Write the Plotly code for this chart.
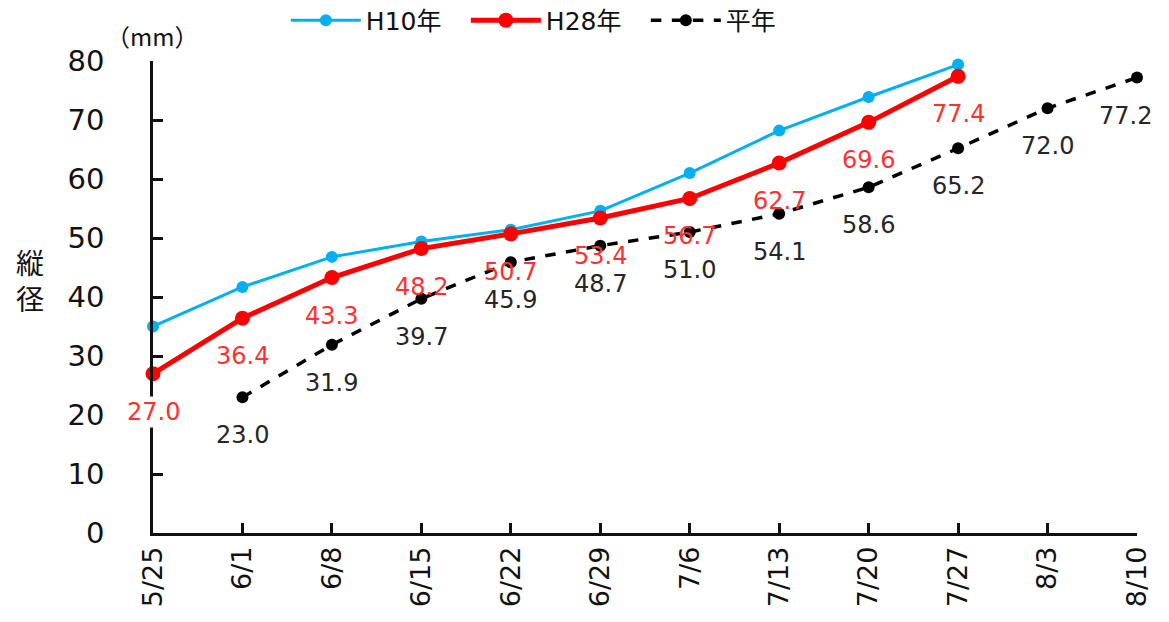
import plotly.graph_objects as go

categories = ["5/25", "6/1", "6/8", "6/15", "6/22", "6/29", "7/6", "7/13", "7/20", "7/27", "8/3", "8/10"]
h10 = [35.0, 41.7, 46.8, 49.4, 51.4, 54.6, 61.0, 68.2, 73.9, 79.4, None, None]
h28 = [27.0, 36.4, 43.3, 48.2, 50.7, 53.4, 56.7, 62.7, 69.6, 77.4, None, None]
avg = [None, 23.0, 31.9, 39.7, 45.9, 48.7, 51.0, 54.1, 58.6, 65.2, 72.0, 77.2]
yticks = [0, 10, 20, 30, 40, 50, 60, 70, 80]

FONT = "DejaVu Sans, Noto Sans CJK JP, sans-serif"
CJK = "Noto Sans CJK JP, DejaVu Sans, sans-serif"

fig = go.Figure()
fig.add_trace(go.Scatter(x=categories, y=h10, name="H10年", mode="lines+markers",
                         line=dict(color="#00B0F0", width=3),
                         marker=dict(size=12, color="#00B0F0"), cliponaxis=False))
fig.add_trace(go.Scatter(x=categories, y=h28, name="H28年", mode="lines+markers",
                         line=dict(color="#FF0000", width=5),
                         marker=dict(size=15, color="#FF0000"), cliponaxis=False))
fig.add_trace(go.Scatter(x=categories, y=avg, name="平年", mode="lines+markers",
                         line=dict(color="#000000", width=3.5, dash="dash"),
                         marker=dict(size=12, color="#000000"), cliponaxis=False))

annotations = []
for series, color in ((h28, "#FF3030"), (avg, "#262626")):
    for i, (c, v) in enumerate(zip(categories, series)):
        if v is None:
            continue
        annotations.append(dict(
            x=c, y=v, xref="x", yref="y", text=f"{v:.1f}", showarrow=False,
            yshift=-38, xshift=(-12 if i == len(categories) - 1 else 0),
            bgcolor=("white" if i == 0 else "rgba(0,0,0,0)"),
            font=dict(family=FONT, size=24, color=color)))

annotations.append(dict(x=-0.125, y=0.536, xref="paper", yref="paper", text="縦<br>径",
                        showarrow=False, font=dict(family=CJK, size=28, color="#111"),
                        xanchor="center", yanchor="middle"))
annotations.append(dict(x=-0.05, y=1.055, xref="paper", yref="paper", text="（mm）",
                        showarrow=False, font=dict(family=CJK, size=24, color="#111"),
                        xanchor="left", yanchor="middle"))

fig.update_layout(
    width=1153, height=606,
    margin=dict(l=145, r=24, t=53, b=81, autoexpand=False),
    paper_bgcolor="white", plot_bgcolor="white",
    font=dict(family=FONT, size=24, color="#111"),
    showlegend=True,
    legend=dict(orientation="h", x=0.135, y=1.086, xanchor="left", yanchor="middle",
                font=dict(family=FONT, size=25, color="#111"), itemwidth=70,
                entrywidth=95, entrywidthmode="pixels", traceorder="normal",
                bgcolor="rgba(255,255,255,0)"),
    annotations=annotations,
)
fig.update_xaxes(type="category", categoryorder="array", categoryarray=categories,
                 range=[0, len(categories) - 1], showline=True, linecolor="#111", linewidth=2.5,
                 ticks="inside", ticklen=10, tickwidth=2.5, tickcolor="#111",
                 tickangle=-90, showgrid=False, zeroline=False,
                 tickfont=dict(family=FONT, size=27, color="#111"))
fig.update_yaxes(range=[0, 80], tickvals=yticks, showline=True, linecolor="#111", linewidth=2.5,
                 ticks="inside", ticklen=10, tickwidth=2.5, tickcolor="#111",
                 showgrid=False, zeroline=False, ticklabelstandoff=40,
                 tickfont=dict(family=FONT, size=29, color="#111"))

fig.write_html("out.html")
